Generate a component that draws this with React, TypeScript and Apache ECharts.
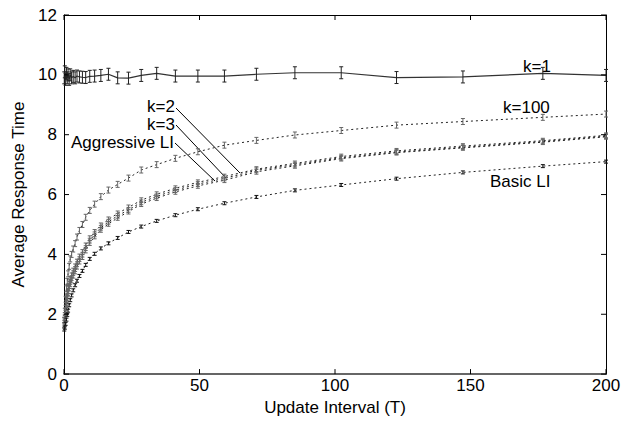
import React, { useEffect, useRef } from "react";
import * as echarts from "echarts";

const T = [0.1, 0.3, 0.6, 0.9, 1.2, 1.5, 1.9, 2.3, 2.8, 3.4, 4.1, 4.8, 5.7, 6.8, 8.0, 9.5, 11.3, 13.6, 16.4, 19.8, 23.8, 28.5, 34.2, 41.1, 49.4, 59.2, 71.0, 85.2, 102.3, 122.7, 147.2, 176.7, 200];

const k1 = [9.9, 10.1, 9.85, 10.05, 9.9, 10.0, 9.85, 10.0, 9.9, 9.95, 9.9, 9.96, 9.93, 9.92, 9.91, 9.95, 9.96, 9.98, 10.02, 9.9, 9.89, 9.98, 10.05, 9.96, 9.96, 9.96, 10.02, 10.07, 10.07, 9.91, 9.93, 10.05, 9.98];
const k100 = [1.8, 2.1, 2.5, 2.85, 3.1, 3.35, 3.6, 3.85, 4.0, 4.18, 4.36, 4.58, 4.8, 5.0, 5.24, 5.47, 5.68, 5.93, 6.15, 6.34, 6.55, 6.82, 7.0, 7.21, 7.43, 7.65, 7.81, 7.99, 8.14, 8.32, 8.44, 8.58, 8.69];
const k2 = [1.8, 1.98, 2.22, 2.48, 2.7, 2.88, 3.03, 3.18, 3.3, 3.46, 3.6, 3.76, 3.93, 4.08, 4.3, 4.54, 4.75, 4.97, 5.17, 5.37, 5.57, 5.81, 6.01, 6.21, 6.41, 6.6, 6.85, 7.04, 7.27, 7.46, 7.62, 7.8, 7.98];
const k3 = [1.72, 1.88, 2.13, 2.38, 2.6, 2.78, 2.94, 3.08, 3.21, 3.37, 3.51, 3.67, 3.84, 3.99, 4.21, 4.46, 4.67, 4.89, 5.09, 5.29, 5.49, 5.74, 5.94, 6.15, 6.35, 6.54, 6.81, 7.0, 7.23, 7.42, 7.58, 7.77, 7.95];
const aggressive = [1.65, 1.8, 2.05, 2.3, 2.52, 2.7, 2.86, 3.0, 3.13, 3.29, 3.43, 3.59, 3.76, 3.91, 4.13, 4.38, 4.6, 4.82, 5.02, 5.22, 5.43, 5.68, 5.88, 6.09, 6.29, 6.48, 6.76, 6.96, 7.2, 7.4, 7.56, 7.75, 7.93];
const basic = [1.49, 1.55, 1.68, 1.82, 1.98, 2.12, 2.3, 2.47, 2.63, 2.8, 2.97, 3.12, 3.28, 3.45, 3.65, 3.85, 4.02, 4.2, 4.37, 4.55, 4.75, 4.93, 5.12, 5.31, 5.51, 5.71, 5.92, 6.14, 6.32, 6.53, 6.74, 6.95, 7.1];

// error half-widths (y units)
const errK1 = 0.2;
const errK100 = 0.1;
const errMid = 0.08;
const errBasic = 0.05;

// tick values
const xTicks = [0, 50, 100, 150, 200];
const yTicks = [0, 2, 4, 6, 8, 10, 12];

const FONT = "'Liberation Sans', Arial, Helvetica, sans-serif";

function lineSeries(name: string, ys: number[], solid: boolean) {
  return {
    name,
    type: "line",
    data: T.map((t, i) => [t, ys[i]]),
    showSymbol: false,
    symbol: "none",
    lineStyle: solid
      ? { color: "#333", width: 1.2, type: "solid" }
      : { color: "#222", width: 1, type: [2, 3] },
    z: 3,
  };
}

function errSeries(name: string, ys: number[], err: number, color: string) {
  return {
    name: name + "-err",
    type: "custom",
    data: T.map((t, i) => [t, ys[i], err]),
    renderItem: (params: any, api: any) => {
      const x = api.value(0);
      const y = api.value(1);
      const e = api.value(2);
      const top = api.coord([x, y + e]);
      const bot = api.coord([x, y - e]);
      const w = 2;
      const st = { stroke: color, lineWidth: 1 };
      return {
        type: "group",
        children: [
          { type: "line", shape: { x1: top[0], y1: top[1], x2: bot[0], y2: bot[1] }, style: st },
          { type: "line", shape: { x1: top[0] - w, y1: top[1], x2: top[0] + w, y2: top[1] }, style: st },
          { type: "line", shape: { x1: bot[0] - w, y1: bot[1], x2: bot[0] + w, y2: bot[1] }, style: st },
        ],
      };
    },
    z: 4,
  };
}

const TICK_LEN = 5;
const tickStyle = { stroke: "#000", lineWidth: 1 };

// inside ticks on all four sides, placed through the axes' scales
const xTickSeries = {
  name: "xticks",
  type: "custom",
  silent: true,
  clip: false,
  data: xTicks.map((v) => [v, 0]),
  renderItem: (params: any, api: any) => {
    const cs = params.coordSys;
    const p = api.coord([api.value(0), 0]);
    const px = p[0];
    const yb = cs.y + cs.height;
    const yt = cs.y;
    return {
      type: "group",
      children: [
        { type: "line", shape: { x1: px, y1: yb, x2: px, y2: yb - TICK_LEN }, style: tickStyle },
        { type: "line", shape: { x1: px, y1: yt, x2: px, y2: yt + TICK_LEN }, style: tickStyle },
      ],
    };
  },
  z: 5,
};

const yTickSeries = {
  name: "yticks",
  type: "custom",
  silent: true,
  clip: false,
  data: yTicks.map((v) => [0, v]),
  renderItem: (params: any, api: any) => {
    const cs = params.coordSys;
    const p = api.coord([0, api.value(1)]);
    const py = p[1];
    const xl = cs.x;
    const xr = cs.x + cs.width;
    return {
      type: "group",
      children: [
        { type: "line", shape: { x1: xl, y1: py, x2: xl + TICK_LEN, y2: py }, style: tickStyle },
        { type: "line", shape: { x1: xr, y1: py, x2: xr - TICK_LEN, y2: py }, style: tickStyle },
      ],
    };
  },
  z: 5,
};

export default function App() {
  const ref = useRef<HTMLDivElement>(null);
  useEffect(() => {
    if (!ref.current) return;
    const chart = echarts.init(ref.current, null, { renderer: "svg" });
    const lbl = (text: string, x: number, y: number, align: string) => ({
      type: "text",
      x,
      y,
      style: { text, fontSize: 17, lineHeight: 17, fill: "#000", fontFamily: FONT, align, verticalAlign: "middle" },
    });
    chart.setOption({
      animation: false,
      backgroundColor: "#fff",
      textStyle: { fontFamily: FONT },
      grid: { left: 64, right: 27, top: 15, bottom: 43, containLabel: false },
      xAxis: [
        {
          type: "value",
          min: 0,
          max: 200,
          interval: 50,
          position: "bottom",
          name: "Update Interval (T)",
          nameLocation: "middle",
          nameGap: 20,
          nameTextStyle: { fontSize: 17, color: "#000", fontFamily: FONT },
          axisLine: { show: true, onZero: false, lineStyle: { color: "#333", width: 1.5 } },
          axisTick: { show: false },
          splitLine: { show: false },
          axisLabel: { fontSize: 17, color: "#000", margin: 3, fontFamily: FONT },
        },
        {
          type: "value",
          min: 0,
          max: 200,
          interval: 50,
          position: "top",
          axisLine: { show: true, onZero: false, lineStyle: { color: "#000", width: 1 } },
          axisTick: { show: false },
          splitLine: { show: false },
          axisLabel: { show: false },
        },
      ],
      yAxis: [
        {
          type: "value",
          min: 0,
          max: 12,
          interval: 2,
          position: "left",
          name: "Average Response Time",
          nameLocation: "middle",
          nameGap: 36,
          nameTextStyle: { fontSize: 17, color: "#000", fontFamily: FONT },
          axisLine: { show: true, onZero: false, lineStyle: { color: "#000", width: 1 } },
          axisTick: { show: false },
          splitLine: { show: false },
          axisLabel: { fontSize: 17, color: "#000", margin: 7, fontFamily: FONT },
        },
        {
          type: "value",
          min: 0,
          max: 12,
          interval: 2,
          position: "right",
          axisLine: { show: true, onZero: false, lineStyle: { color: "#000", width: 1 } },
          axisTick: { show: false },
          splitLine: { show: false },
          axisLabel: { show: false },
        },
      ],
      series: [
        lineSeries("k=1", k1, true),
        lineSeries("k=100", k100, false),
        lineSeries("k=2", k2, false),
        lineSeries("k=3", k3, false),
        lineSeries("Aggressive LI", aggressive, false),
        lineSeries("Basic LI", basic, false),
        errSeries("k=1", k1, errK1, "#222"),
        errSeries("k=100", k100, errK100, "#666"),
        errSeries("k=2", k2, errMid, "#666"),
        errSeries("k=3", k3, errMid, "#666"),
        errSeries("Aggressive LI", aggressive, errMid, "#666"),
        errSeries("Basic LI", basic, errBasic, "#111"),
        xTickSeries,
        yTickSeries,
      ],
      graphic: [
        lbl("k=1", 523, 66, "left"),
        lbl("k=100", 503, 107, "left"),
        lbl("Basic LI", 490, 181, "left"),
        lbl("k=2", 175, 106, "right"),
        lbl("k=3", 175, 124, "right"),
        lbl("Aggressive LI", 174, 142, "right"),
        { type: "line", shape: { x1: 176, y1: 108, x2: 240, y2: 173 }, style: { stroke: "#000", lineWidth: 1 } },
        { type: "line", shape: { x1: 176, y1: 125, x2: 226, y2: 178 }, style: { stroke: "#000", lineWidth: 1 } },
        { type: "line", shape: { x1: 175, y1: 143, x2: 215, y2: 181 }, style: { stroke: "#000", lineWidth: 1 } },
      ],
    });
    return () => chart.dispose();
  }, []);
  return (
    <div
      ref={ref}
      style={{ position: "fixed", left: 0, top: 0, width: 633, height: 421, background: "#fff" }}
    />
  );
}
